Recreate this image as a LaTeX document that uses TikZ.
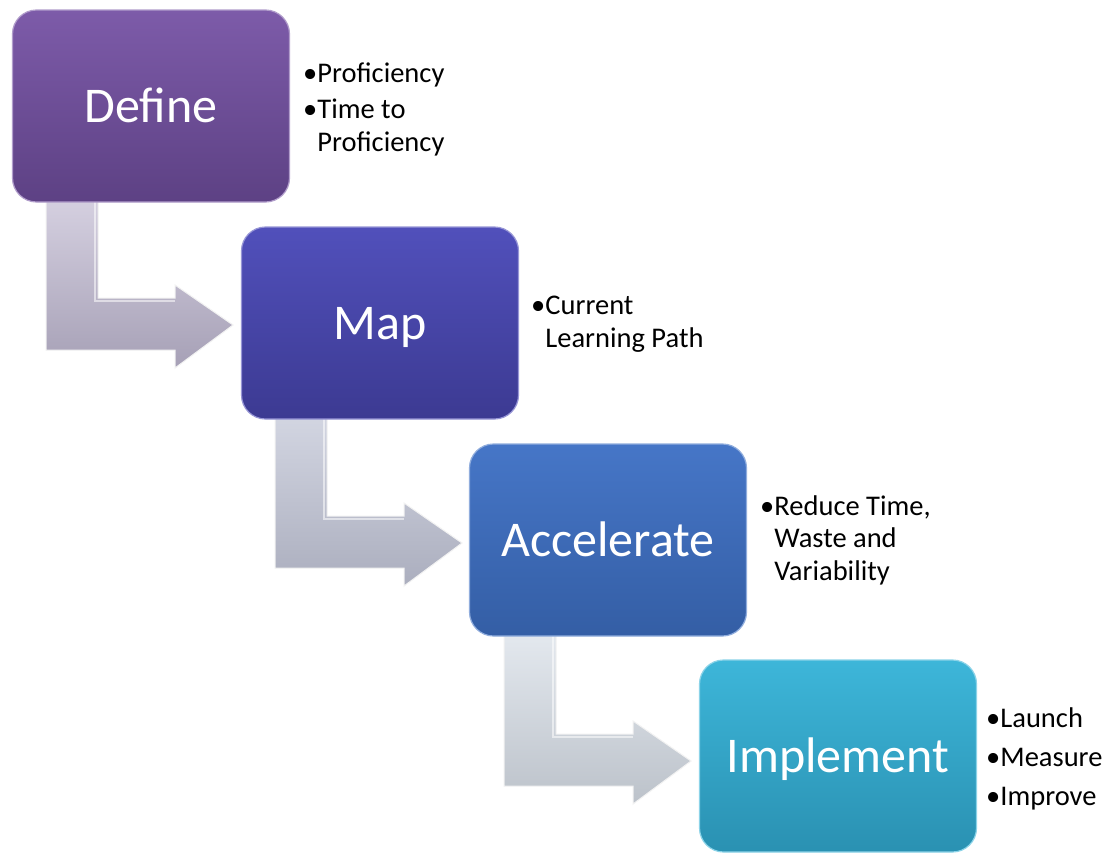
\documentclass[tikz,border=0pt]{standalone}
\usepackage{fontspec}
\setmainfont{Carlito}
\usetikzlibrary{positioning,calc}

\definecolor{defineTop}{HTML}{7D5BA9}
\definecolor{defineBot}{HTML}{5D4184}
\definecolor{mapTop}{HTML}{5150BB}
\definecolor{mapBot}{HTML}{3C3A92}
\definecolor{accTop}{HTML}{4676C7}
\definecolor{accBot}{HTML}{345EA5}
\definecolor{implTop}{HTML}{3DB6D9}
\definecolor{implBot}{HTML}{2A91B2}
\definecolor{arrOneTop}{HTML}{D6D1E1}
\definecolor{arrOneBot}{HTML}{A6A0B6}
\definecolor{arrTwoTop}{HTML}{D3D6E2}
\definecolor{arrTwoBot}{HTML}{ABAEBE}
\definecolor{arrThreeTop}{HTML}{E4E9EF}
\definecolor{arrThreeBot}{HTML}{BCC2CA}

\tikzset{
  stepbox/.style={rounded corners=24pt, minimum width=277pt,
    minimum height=192pt, inner sep=0pt, text=white,
    font=\fontsize{50}{60}\selectfont, text height=32pt, text depth=0pt,
    line width=1.2pt},
  notes/.style={anchor=base west, inner sep=0pt, align=left,
    font=\fontsize{28.5}{32.5}\selectfont},
  bent/.style={line width=1pt, line join=miter, draw=white!90!gray},
  bevel/.style={white, opacity=0.55, line width=2pt}
}

\begin{document}
\begin{tikzpicture}[x=1pt, y=-1pt]
          \useasboundingbox[fill=white] (0,0) rectangle (1107,854);

          % bent arrows, drawn under the boxes
          \path[bent, top color=arrOneTop, bottom color=arrOneBot] (46,195) --
          (98,195) -- (98,298) -- (175,298) -- (175,285) -- (233,325) --
          (175,368) -- (175,350) -- (46,350) -- cycle;
          \path[bent, shift={(229,218)}, top color=arrTwoTop,
          bottom color=arrTwoBot] (46,195) -- (98,195) -- (98,298) --
          (175,298) -- (175,285) -- (233,325) -- (175,368) -- (175,350) --
          (46,350) -- cycle;
          \path[bent, shift={(458,436)}, top color=arrThreeTop,
          bottom color=arrThreeBot] (46,195) -- (98,195) -- (98,298) --
          (175,298) -- (175,285) -- (233,325) -- (175,368) -- (175,350) --
          (46,350) -- cycle;
          % light bevel edges
          \draw[bevel] (95,200) -- (95,301) -- (175,301);
          \draw[bevel] (324,418) -- (324,519) -- (404,519);
          \draw[bevel] (553,636) -- (553,737) -- (633,737);

          % steps
          \node[stepbox, top color=defineTop, bottom color=defineBot,
          draw=defineTop!60!white] (define) at (151,106) {Define};
          \node[stepbox, top color=mapTop, bottom color=mapBot,
          draw=mapTop!60!white] (map) at (380,323) {Map};
          \node[stepbox, top color=accTop, bottom color=accBot,
          draw=accTop!60!white] (accelerate) at (608,540) {Accelerate};
          \node[stepbox, top color=implTop, bottom color=implBot,
          draw=implTop!60!white] (implement) at (838,756) {Implement};

          % notes beside each step (placed by their last baseline)
          \node[notes] (defineNotes) at (303,151)
          {•Proficiency\\[3.5pt]•Time to\\\phantom{•}Proficiency};
          \node[notes] (mapNotes) at (531,347)
          {•Current\\\phantom{•}Learning Path};
          \node[notes] (accNotes) at (760,580)
          {•Reduce Time,\\\phantom{•}Waste and\\\phantom{•}Variability};
          \node[notes] (implNotes) at (986,805)
          {•Launch\\[6.5pt]•Measure\\[6.5pt]•Improve};
        \end{tikzpicture}
\end{document}
